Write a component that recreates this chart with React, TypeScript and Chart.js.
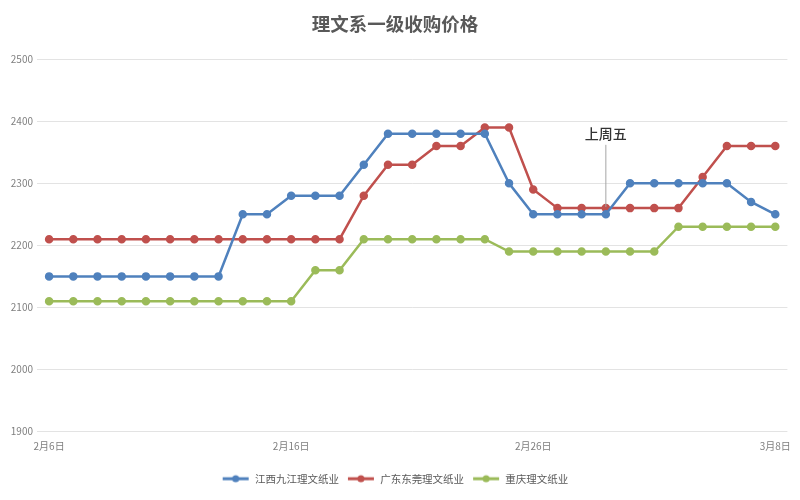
import React, { useEffect, useRef } from "react";
import { Chart, registerables } from "chart.js";

Chart.register(...registerables);

const TITLE = "理文系一级收购价格";

const DATES = [
  "2月6日", "2月7日", "2月8日", "2月9日", "2月10日", "2月11日", "2月12日", "2月13日",
  "2月14日", "2月15日", "2月16日", "2月17日", "2月18日", "2月19日", "2月20日", "2月21日",
  "2月22日", "2月23日", "2月24日", "2月25日", "2月26日", "2月27日", "2月28日",
  "3月1日", "3月2日", "3月3日", "3月4日", "3月5日", "3月6日", "3月7日", "3月8日",
];

const SERIES_NAMES = ["江西九江理文纸业", "广东东莞理文纸业", "重庆理文纸业"];

const JIUJIANG = [
  2150, 2150, 2150, 2150, 2150, 2150, 2150, 2150,
  2250, 2250, 2280, 2280, 2280, 2330, 2380, 2380,
  2380, 2380, 2380, 2300, 2250, 2250, 2250, 2250,
  2300, 2300, 2300, 2300, 2300, 2270, 2250,
];

const DONGGUAN = [
  2210, 2210, 2210, 2210, 2210, 2210, 2210, 2210,
  2210, 2210, 2210, 2210, 2210, 2280, 2330, 2330,
  2360, 2360, 2390, 2390, 2290, 2260, 2260, 2260,
  2260, 2260, 2260, 2310, 2360, 2360, 2360,
];

const CHONGQING = [
  2110, 2110, 2110, 2110, 2110, 2110, 2110, 2110,
  2110, 2110, 2110, 2160, 2160, 2210, 2210, 2210,
  2210, 2210, 2210, 2190, 2190, 2190, 2190, 2190,
  2190, 2190, 2230, 2230, 2230, 2230, 2230,
];

const Y_MIN = 1900;
const Y_MAX = 2500;
const Y_STEP = 100;

const NOTE_TEXT = "上周五";
const NOTE_INDEX = 23;
const NOTE_TEXT_VALUE = 2380;
const NOTE_LINE_TOP = 2362;
const NOTE_LINE_BOTTOM = 2262;

const COLORS = ["#4F81BD", "#C0504D", "#9BBB59"];
const FONT = "'Noto Sans CJK SC', 'Microsoft YaHei', sans-serif";

function legendMarker(color: string): HTMLCanvasElement {
  const c = document.createElement("canvas");
  c.width = 28;
  c.height = 10;
  const ctx = c.getContext("2d")!;
  ctx.strokeStyle = color;
  ctx.lineWidth = 3;
  ctx.beginPath();
  ctx.moveTo(1, 5);
  ctx.lineTo(27, 5);
  ctx.stroke();
  ctx.fillStyle = color;
  ctx.beginPath();
  ctx.arc(14, 5, 3.5, 0, Math.PI * 2);
  ctx.fill();
  return c;
}

const notePlugin = {
  id: "notePlugin",
  afterDatasetsDraw(chart: any) {
    const x = chart.scales.x.getPixelForValue(NOTE_INDEX);
    const y = chart.scales.y;
    const ctx = chart.ctx;
    ctx.save();
    ctx.strokeStyle = "#a6a6a6";
    ctx.lineWidth = 1;
    ctx.beginPath();
    ctx.moveTo(x, y.getPixelForValue(NOTE_LINE_TOP));
    ctx.lineTo(x, y.getPixelForValue(NOTE_LINE_BOTTOM));
    ctx.stroke();
    ctx.fillStyle = "#333333";
    ctx.font = `500 14px ${FONT}`;
    ctx.textAlign = "center";
    ctx.textBaseline = "middle";
    ctx.fillText(NOTE_TEXT, x, y.getPixelForValue(NOTE_TEXT_VALUE));
    ctx.restore();
  },
};

export default function App() {
  const ref = useRef<HTMLCanvasElement>(null);

  useEffect(() => {
    if (!ref.current) return;
    const seriesData = [JIUJIANG, DONGGUAN, CHONGQING];
    const chart = new Chart(ref.current, {
      type: "line",
      data: {
        labels: DATES,
        datasets: seriesData.map((d, i) => ({
          label: SERIES_NAMES[i],
          data: d,
          borderColor: COLORS[i],
          backgroundColor: COLORS[i],
          pointBackgroundColor: COLORS[i],
          pointBorderColor: COLORS[i],
          borderWidth: 2.5,
          pointRadius: 3,
          pointStyle: "circle",
          tension: 0,
        })) as any,
      },
      options: {
        responsive: false,
        animation: false,
        layout: { padding: { left: 0, right: 10, top: 0, bottom: 6 } },
        plugins: {
          title: {
            display: true,
            text: TITLE,
            color: "#595959",
            font: { family: FONT, size: 18.5, weight: "bold" },
            padding: { top: 13, bottom: 24 },
          },
          legend: {
            position: "bottom",
            labels: {
              color: "#595959",
              font: { family: FONT, size: 10.5 },
              usePointStyle: true,
              pointStyleWidth: 28,
              boxHeight: 10,
              padding: 8,
              generateLabels: (ch: any) =>
                ch.data.datasets.map((ds: any, i: number) => ({
                  text: ds.label,
                  fillStyle: COLORS[i],
                  strokeStyle: COLORS[i],
                  pointStyle: legendMarker(COLORS[i]),
                  datasetIndex: i,
                  hidden: false,
                  lineWidth: 0,
                  fontColor: "#595959",
                })),
            },
          },
          tooltip: { enabled: false },
        },
        scales: {
          x: {
            offset: true,
            afterFit: (axis: any) => {
              axis.height += 4;
            },
            grid: { display: false, drawTicks: false },
            border: { display: false },
            ticks: {
              autoSkip: false,
              maxRotation: 0,
              color: "#7f7f7f",
              font: { family: FONT, size: 10 },
              padding: 9,
              callback: (_v: any, i: number) => (i % 10 === 0 ? DATES[i] : ""),
            },
          },
          y: {
            min: Y_MIN,
            max: Y_MAX,
            afterFit: (axis: any) => {
              axis.width = 37;
            },
            grid: { color: "#e3e3e3", drawTicks: false },
            border: { display: false },
            ticks: {
              stepSize: Y_STEP,
              color: "#7f7f7f",
              font: { family: FONT, size: 10 },
              padding: 4,
              callback: (v: any) => String(v),
            },
          },
        },
      },
      plugins: [notePlugin],
    });
    return () => chart.destroy();
  }, []);

  return (
    <div style={{ position: "fixed", left: 0, top: 0, width: 800, height: 500, background: "#fff" }}>
      <canvas ref={ref} width={800} height={500} style={{ width: 800, height: 500 }} />
    </div>
  );
}
